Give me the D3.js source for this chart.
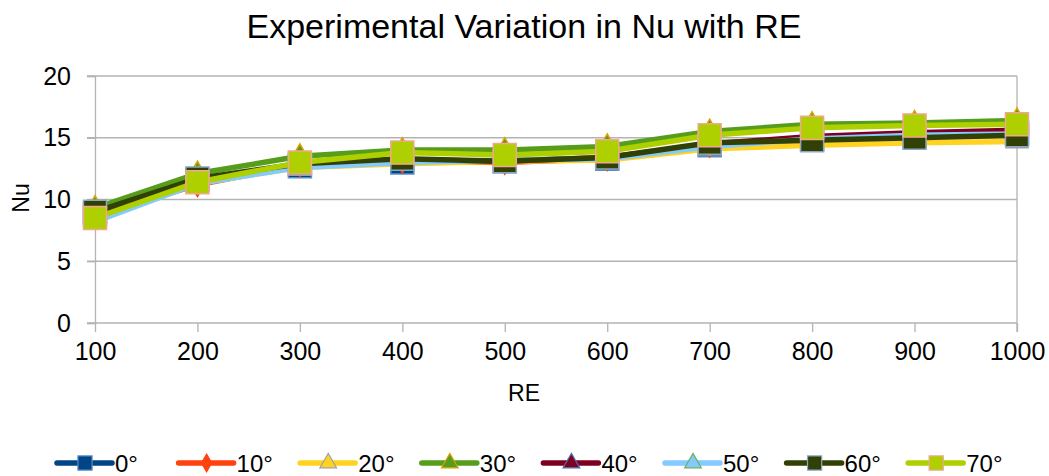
<!DOCTYPE html>
<html>
<head>
<meta charset="utf-8">
<script src="https://cdn.jsdelivr.net/npm/d3@7/dist/d3.min.js"></script>
<style>
  html, body { margin: 0; padding: 0; background: #fff; }
  svg { display: block; font-family: "Liberation Sans", Arial, sans-serif; }
</style>
</head>
<body>
<svg id="chart" width="1049" height="476"></svg>
<script>
// ---- data ----
const categories = [100, 200, 300, 400, 500, 600, 700, 800, 900, 1000];
const seriesNames = ["0°", "10°", "20°", "30°", "40°", "50°", "60°", "70°"];
const s0  = [8.8, 11.6, 12.7, 13.0, 13.1, 13.3, 14.4, 14.9, 15.2, 15.4];
const s10 = [8.6, 11.2, 12.8, 13.1, 13.0, 13.3, 14.4, 15.0, 15.3, 15.5];
const s20 = [8.6, 11.3, 12.6, 12.9, 13.1, 13.2, 14.1, 14.4, 14.6, 14.7];
const s30 = [9.3, 12.1, 13.5, 14.0, 14.0, 14.3, 15.5, 16.1, 16.2, 16.4];
const s40 = [8.9, 11.5, 12.8, 13.2, 13.1, 13.4, 14.5, 15.1, 15.4, 15.6];
const s50 = [8.2, 11.3, 12.6, 13.0, 13.2, 13.3, 14.3, 14.9, 15.2, 15.3];
const s60 = [9.0, 11.7, 12.9, 13.3, 13.1, 13.4, 14.6, 14.8, 15.0, 15.2];
const s70 = [8.5, 11.4, 13.0, 13.8, 13.6, 13.9, 15.2, 15.8, 16.0, 16.1];
const seriesValues = [s0, s10, s20, s30, s40, s50, s60, s70];
const yTicks = [0, 5, 10, 15, 20];

// ---- styles ----
const lineColors   = ["#004586", "#ff420e", "#ffd320", "#579d1c", "#7e0021", "#83caff", "#314004", "#aecf00"];
const markerStroke = ["#5b8fc4", "#ff420e", "#a0a0a0", "#e0a000", "#4a6fb0", "#6fae5a", "#8aa6c4", "#f0a890"];
const markerShapes = [d3.symbolSquare, d3.symbolDiamond, d3.symbolTriangle, d3.symbolTriangle,
                      d3.symbolTriangle, d3.symbolTriangle, d3.symbolSquare, d3.symbolSquare];

const svg = d3.select("#chart");
const W = 1049, H = 476;
const margin = { left: 95, right: 1049 - 1017, top: 76, bottom: 476 - 323 };
const FONT = "Liberation Sans, Arial, sans-serif";

const x = d3.scalePoint().domain(categories).range([margin.left, W - margin.right]);
const y = d3.scaleLinear().domain([0, 20]).range([H - margin.bottom, margin.top]);

const grid = "#b3b3b3";

// gridlines
svg.append("g").selectAll("line").data(yTicks.filter(d => d > 0)).join("line")
  .attr("x1", margin.left - 8).attr("x2", W - margin.right)
  .attr("y1", d => y(d)).attr("y2", d => y(d))
  .attr("stroke", grid).attr("stroke-width", 1.3);

// right border
svg.append("line")
  .attr("x1", W - margin.right).attr("x2", W - margin.right)
  .attr("y1", margin.top).attr("y2", y(0) + 9)
  .attr("stroke", grid).attr("stroke-width", 1.3);

// y axis
const yAxis = svg.append("g").attr("transform", `translate(${margin.left},0)`)
  .call(d3.axisLeft(y).tickValues(yTicks).tickSize(8).tickPadding(16));
yAxis.select(".domain").attr("stroke", grid).attr("stroke-width", 1.3);
yAxis.selectAll(".tick line").attr("stroke", grid).attr("stroke-width", 1.3);
yAxis.selectAll("text").attr("font-size", 25).attr("fill", "#000").style("font-family", FONT);

// x axis
const xAxis = svg.append("g").attr("transform", `translate(0,${y(0)})`)
  .call(d3.axisBottom(x).tickSize(9).tickPadding(10).tickSizeOuter(0));
xAxis.select(".domain").attr("stroke", grid).attr("stroke-width", 1.3)
  .attr("d", `M${margin.left - 8},0H${W - margin.right}`);
xAxis.selectAll(".tick line").attr("stroke", grid).attr("stroke-width", 1.3);
xAxis.selectAll("text").attr("font-size", 25).attr("fill", "#000").style("font-family", FONT);

// titles
svg.append("text").attr("x", 524).attr("y", 38).attr("text-anchor", "middle")
  .attr("font-size", 34).text("Experimental Variation in Nu with RE");
svg.append("text").attr("x", 524).attr("y", 401).attr("text-anchor", "middle")
  .attr("font-size", 23).text("RE");
svg.append("text").attr("transform", "translate(29,198) rotate(-90)").attr("text-anchor", "middle")
  .attr("font-size", 23).text("Nu");

// series
const line = d3.line().x((d, i) => x(categories[i])).y(d => y(d));
const symSize = i => markerShapes[i] === d3.symbolSquare ? 530 : (markerShapes[i] === d3.symbolDiamond ? 160 : 200);

seriesValues.forEach((vals, i) => {
  const g = svg.append("g");
  g.append("path").datum(vals).attr("d", line)
    .attr("fill", "none").attr("stroke", lineColors[i]).attr("stroke-width", 5.5)
    .attr("stroke-linejoin", "round");
  g.selectAll("path.m").data(vals).join("path").attr("class", "m")
    .attr("transform", (d, j) => `translate(${x(categories[j])},${y(d)})`)
    .attr("d", d3.symbol().type(markerShapes[i]).size(symSize(i)))
    .attr("fill", lineColors[i]).attr("stroke", markerStroke[i]).attr("stroke-width", 1.5);
});

// legend
const legend = svg.append("g");
const legendX0 = 57, legendStep = 121.6, legendY = 463;
const legendSize = s => s === d3.symbolSquare ? 200 : (s === d3.symbolDiamond ? 90 : 120);
seriesNames.forEach((name, i) => {
  const lx = legendX0 + i * legendStep;
  legend.append("line").attr("x1", lx).attr("x2", lx + 55).attr("y1", legendY).attr("y2", legendY)
    .attr("stroke", lineColors[i]).attr("stroke-width", 5.5).attr("stroke-linecap", "round");
  legend.append("path").attr("transform", `translate(${lx + 28},${legendY})`)
    .attr("d", d3.symbol().type(markerShapes[i]).size(legendSize(markerShapes[i])))
    .attr("fill", lineColors[i]).attr("stroke", markerStroke[i]).attr("stroke-width", 1.2);
  legend.append("text").attr("x", lx + 58).attr("y", legendY + 9).attr("font-size", 24).text(name);
});
</script>
</body>
</html>
